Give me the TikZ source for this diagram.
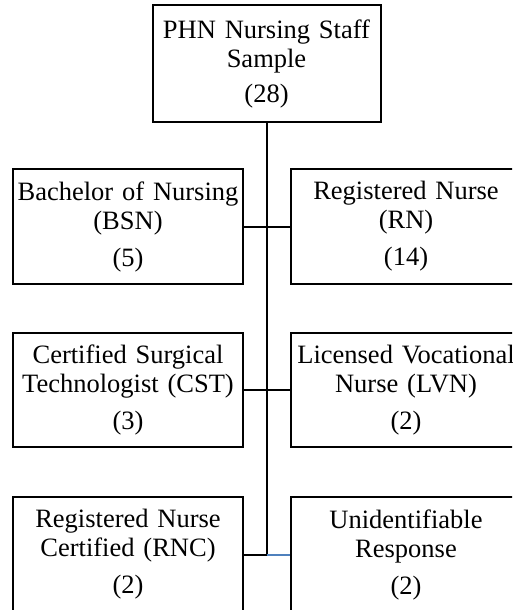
\documentclass[tikz,border=0pt]{standalone}
\usepackage{fontspec}
\setmainfont{Liberation Serif}
\usepackage{tikz}
\definecolor{linkblue}{RGB}{79,129,189}

\begin{document}
\begin{tikzpicture}[x=1pt, y=-1pt]
\tikzstyle{staffbox} = [draw, line width = 2pt, rectangle, minimum width = 230pt, minimum height = 115pt, text width = 222pt, align = center, inner sep = 0pt, font = \fontsize{26.5}{29}\selectfont]
\tikzset{link/.style={line width = 2pt}}
\clip (0,0) rectangle (512,610);
\node [staffbox, minimum width = 228pt, minimum height = 117pt] (top) at (266.5,63.5) {PHN Nursing Staff\\Sample\\[6pt](28)};
\node [staffbox] (bsn) at (128,226.5) {Bachelor of Nursing\\(BSN)\\[8pt](5)};
\node [staffbox] (rn)  at (406,226.5) {Registered Nurse\\(RN)\\[8pt](14)};
\node [staffbox, minimum height = 114pt] (cst) at (128,390) {Certified Surgical\\Technologist (CST)\\[8pt](3)};
\node [staffbox, minimum height = 114pt] (lvn) at (406,390) {Licensed Vocational\\Nurse (LVN)\\[8pt](2)};
\node [staffbox] (rnc) at (128,554.5) {Registered Nurse\\Certified (RNC)\\[8pt](2)};
\node [staffbox] (ur)  at (406,554.5) {Unidentifiable\\Response\\[8pt](2)};
\coordinate (spine) at (top.south |- rnc.east);
\draw [link] (top.south) -- (spine);
\draw [link] (bsn.east) -- (rn.west);
\draw [link] (cst.east) -- (lvn.west);
\draw [link] (rnc.east) -- (spine);
\draw [link, linkblue] (spine) -- (ur.west);
\end{tikzpicture}
\end{document}
